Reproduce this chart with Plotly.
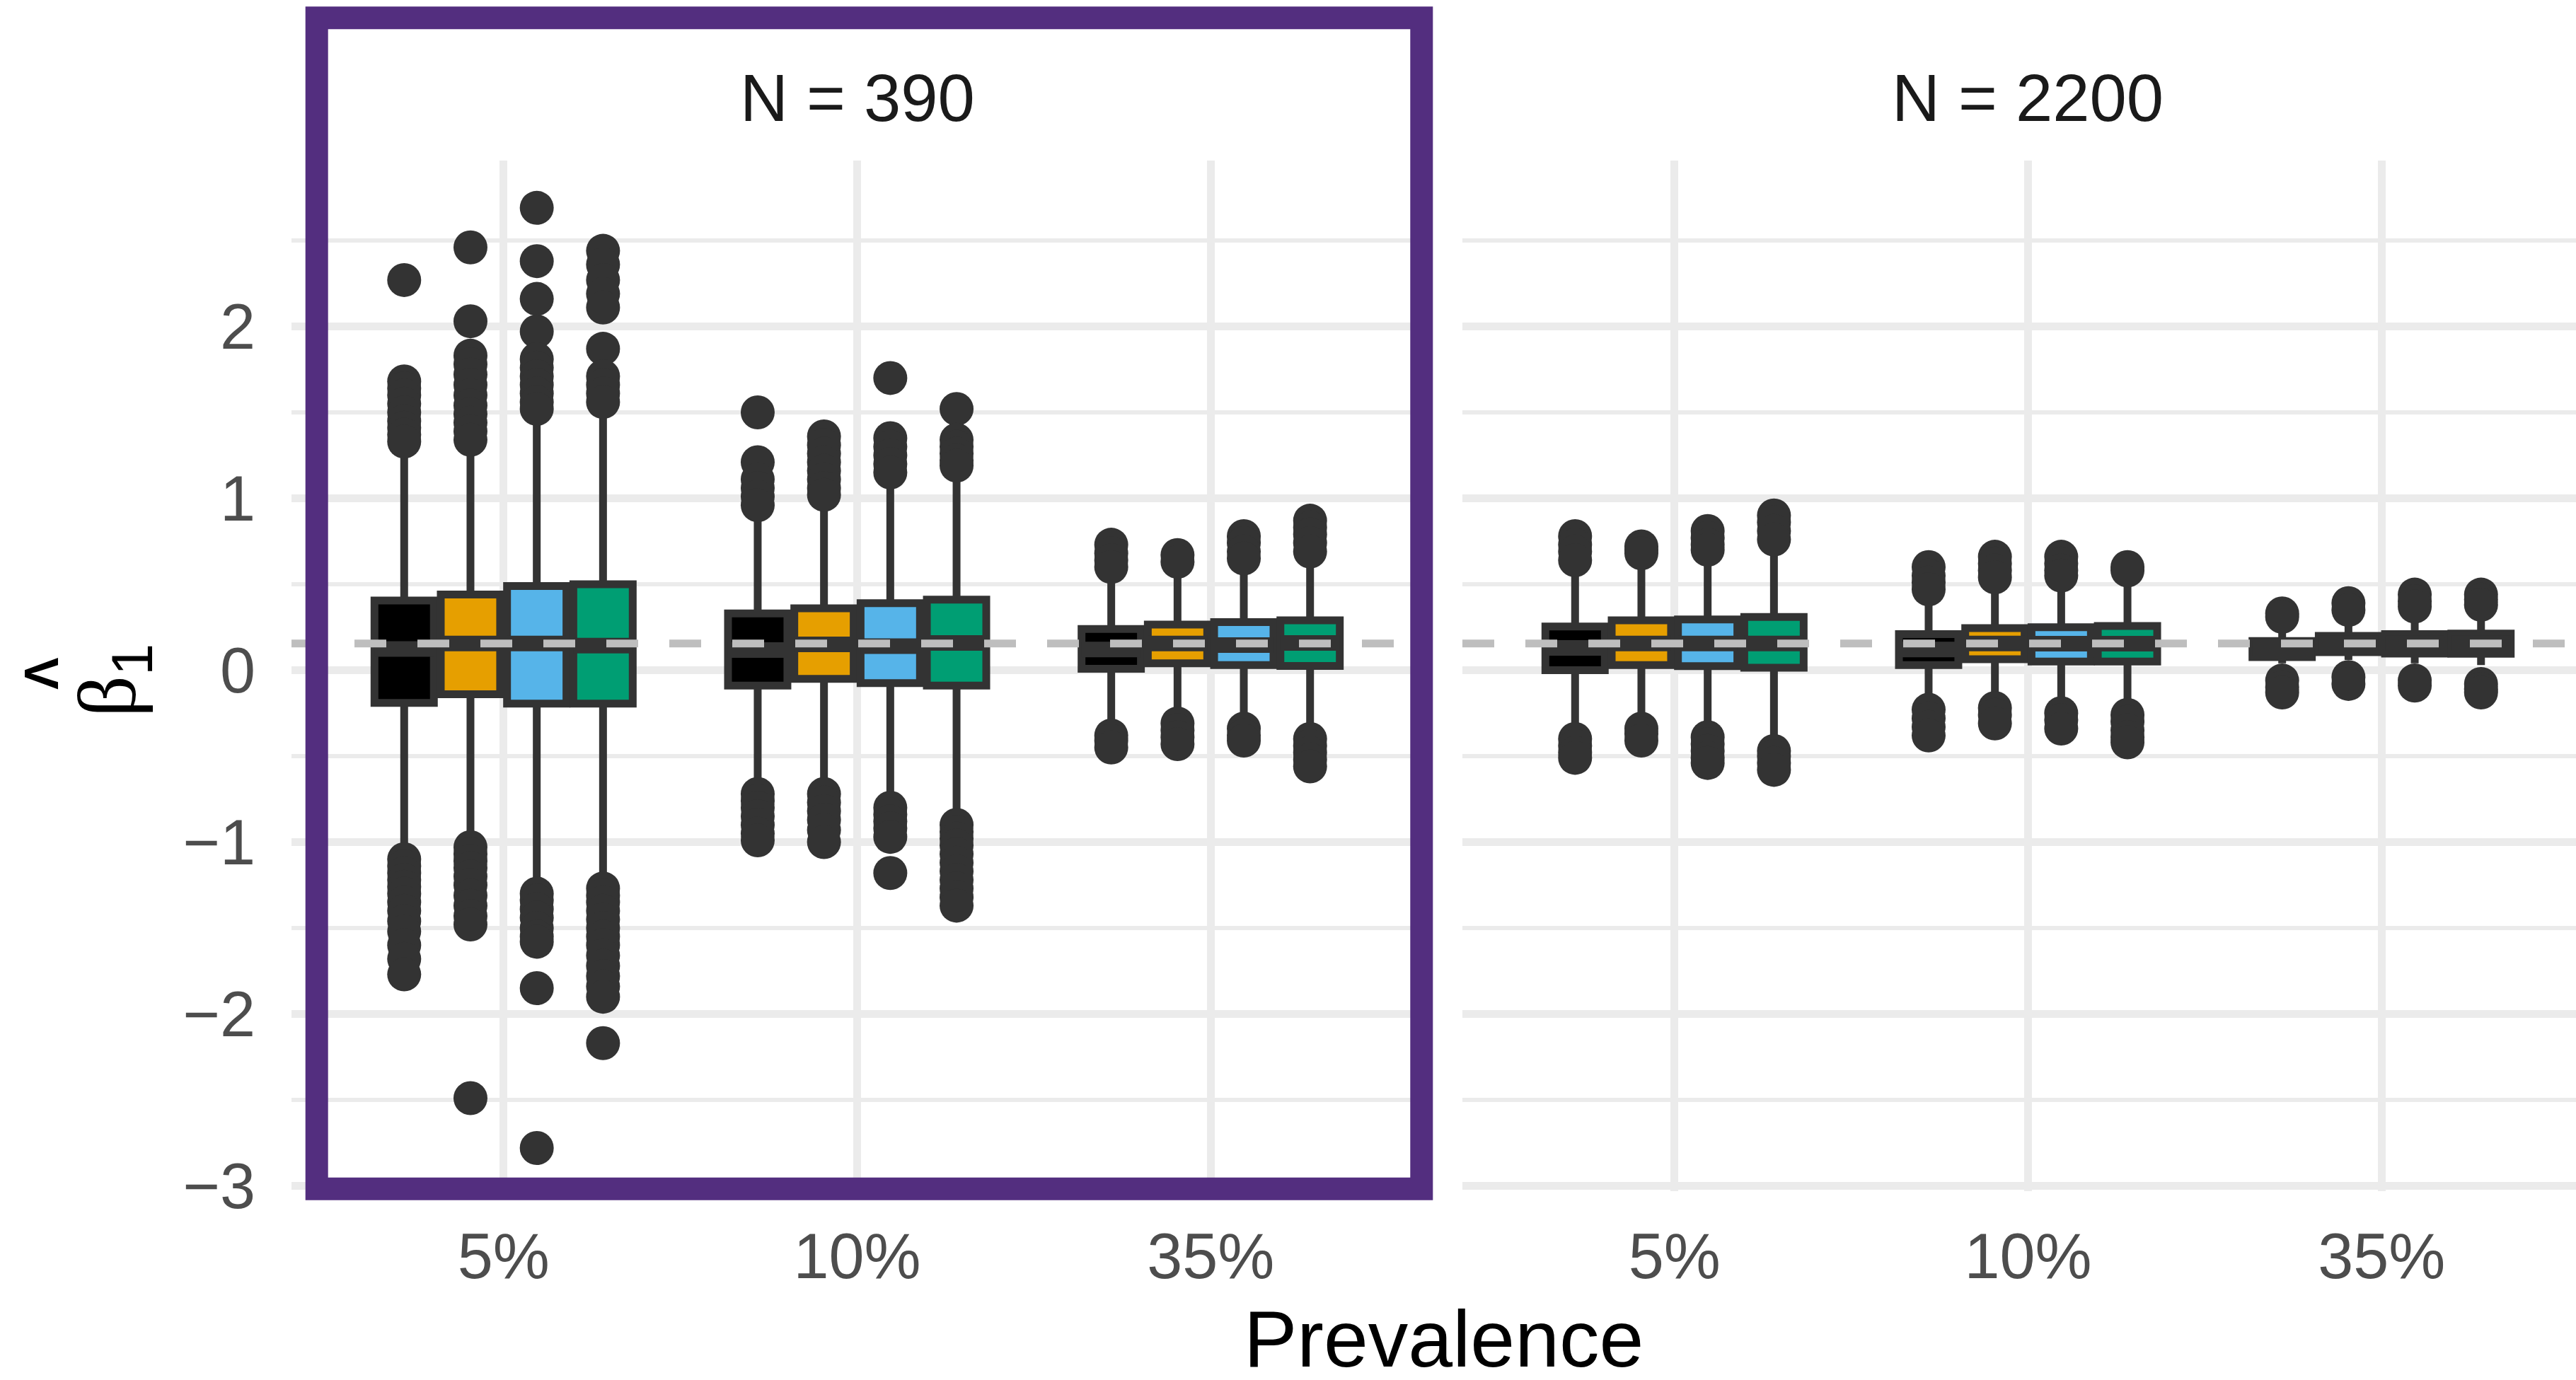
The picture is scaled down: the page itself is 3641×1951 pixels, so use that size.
import plotly.graph_objects as go

# ---------------- data ----------------
PANELS = ["N = 390", "N = 2200"]
PREVALENCE = ["5%", "10%", "35%"]
METHODS = ["Method 1", "Method 2", "Method 3", "Method 4"]
METHOD_COLORS = ["#000000", "#E69F00", "#56B4E9", "#009E73"]
TRUE_BETA = 0.155
Y_TICKS = [-3, -2, -1, 0, 1, 2]

# order within each list: 5% (m1..m4), 10% (m1..m4), 35% (m1..m4)
q1_390 = [-0.19, -0.14, -0.195, -0.195, -0.09, -0.05, -0.075, -0.09, 0.008, 0.04, 0.03, 0.025]
med_390 = [0.123, 0.155, 0.155, 0.143, 0.117, 0.15, 0.14, 0.158, 0.12, 0.155, 0.146, 0.158]
q3_390 = [0.405, 0.44, 0.49, 0.50, 0.33, 0.36, 0.39, 0.41, 0.24, 0.265, 0.28, 0.29]
lo_390 = [-1.06, -0.99, -1.26, -1.22, -0.68, -0.68, -0.76, -0.86, -0.34, -0.28, -0.30, -0.36]
hi_390 = [1.30, 1.30, 1.49, 1.53, 0.93, 0.98, 1.10, 1.15, 0.56, 0.58, 0.61, 0.65]
out_390 = [
    [2.27, 1.68, 1.64, 1.60, 1.55, 1.50, 1.45, 1.41, 1.37, 1.33,
     -1.10, -1.14, -1.18, -1.22, -1.26, -1.30, -1.35, -1.40, -1.46, -1.52, -1.60, -1.68, -1.77],
    [2.46, 2.03, 1.83, 1.78, 1.72, 1.66, 1.60, 1.54, 1.49, 1.44, 1.39, 1.34,
     -1.03, -1.07, -1.11, -1.15, -1.20, -1.25, -1.31, -1.37, -1.43, -1.48, -2.49],
    [2.69, 2.38, 2.16, 1.97, 1.81, 1.76, 1.71, 1.66, 1.61, 1.56, 1.52,
     -1.30, -1.34, -1.39, -1.44, -1.50, -1.55, -1.58, -1.85, -2.78],
    [2.44, 2.36, 2.27, 2.19, 2.11, 1.87, 1.71, 1.66, 1.61, 1.56,
     -1.27, -1.31, -1.35, -1.40, -1.45, -1.50, -1.55, -1.60, -1.66, -1.72, -1.78, -1.84, -1.90, -2.17],
    [1.50, 1.21, 1.11, 1.06, 1.01, 0.96,
     -0.72, -0.76, -0.80, -0.85, -0.90, -0.95, -0.99],
    [1.36, 1.31, 1.26, 1.21, 1.16, 1.11, 1.06, 1.02,
     -0.72, -0.77, -0.82, -0.87, -0.93, -1.00],
    [1.70, 1.35, 1.30, 1.25, 1.20, 1.15,
     -0.80, -0.84, -0.88, -0.92, -0.97, -1.18],
    [1.52, 1.34, 1.30, 1.26, 1.22, 1.19,
     -0.90, -0.94, -0.98, -1.02, -1.07, -1.12, -1.17, -1.22, -1.27, -1.32, -1.37],
    [0.73, 0.68, 0.64, 0.60, -0.38, -0.41, -0.45],
    [0.67, 0.63, -0.31, -0.35, -0.39, -0.43],
    [0.78, 0.74, 0.69, 0.65, -0.34, -0.38, -0.41],
    [0.87, 0.83, 0.79, 0.74, 0.69, -0.40, -0.44, -0.48, -0.52, -0.56],
]

q1_2200 = [0.0, 0.03, 0.024, 0.014, 0.03, 0.064, 0.05, 0.05, 0.076, 0.105, 0.097, 0.096]
med_2200 = [0.13, 0.155, 0.155, 0.155, 0.12, 0.155, 0.154, 0.154, 0.125, 0.155, 0.155, 0.155]
q3_2200 = [0.254, 0.29, 0.295, 0.31, 0.21, 0.245, 0.25, 0.257, 0.17, 0.20, 0.21, 0.213]
lo_2200 = [-0.36, -0.30, -0.35, -0.43, -0.19, -0.18, -0.21, -0.22, 0.04, 0.06, 0.04, 0.03]
hi_2200 = [0.60, 0.64, 0.66, 0.72, 0.43, 0.50, 0.51, 0.54, 0.22, 0.29, 0.31, 0.32]
out_2200 = [
    [0.78, 0.73, 0.69, 0.64, -0.40, -0.44, -0.48, -0.51],
    [0.72, 0.70, 0.68, -0.34, -0.37, -0.41],
    [0.81, 0.77, 0.73, 0.70, -0.39, -0.43, -0.47, -0.51, -0.54],
    [0.90, 0.86, 0.81, 0.76, -0.47, -0.50, -0.54, -0.58],
    [0.60, 0.55, 0.51, 0.47, -0.23, -0.28, -0.33, -0.38],
    [0.66, 0.62, 0.58, 0.54, -0.22, -0.26, -0.31],
    [0.66, 0.62, 0.58, 0.55, -0.25, -0.29, -0.34],
    [0.60, 0.58, -0.26, -0.30, -0.35, -0.39, -0.42],
    [0.33, 0.31, -0.06, -0.10, -0.13],
    [0.39, 0.35, -0.04, -0.08],
    [0.44, 0.40, 0.37, -0.06, -0.09],
    [0.44, 0.41, 0.38, -0.08, -0.11, -0.13],
]

PANEL_DATA = [
    (q1_390, med_390, q3_390, lo_390, hi_390, out_390),
    (q1_2200, med_2200, q3_2200, lo_2200, hi_2200, out_2200),
]

# ---------------- style ----------------
FONT = "Liberation Sans"
DARK = "#333333"
GRID = "#EBEBEB"
DODGE = 0.1875
BOX_W = 0.168

fig = go.Figure()

for p, (q1, med, q3, lo, hi, outs) in enumerate(PANEL_DATA):
    xa = "x" if p == 0 else "x2"
    ya = "y" if p == 0 else "y2"
    for c in range(len(PREVALENCE)):
        for m in range(len(METHODS)):
            i = c * len(METHODS) + m
            pos = (c + 1) + (m - 1.5) * DODGE
            # outliers
            fig.add_trace(go.Scatter(
                x=[pos] * len(outs[i]), y=outs[i], mode="markers",
                marker=dict(size=48, color=DARK, line=dict(width=0)),
                xaxis=xa, yaxis=ya, showlegend=False, hoverinfo="skip"))
            # box
            fig.add_trace(go.Box(
                x=[pos], q1=[q1[i]], median=[med[i]], q3=[q3[i]],
                lowerfence=[lo[i]], upperfence=[hi[i]],
                width=BOX_W, whiskerwidth=0, boxpoints=False,
                fillcolor=METHOD_COLORS[m], line=dict(color=DARK, width=11),
                name=METHODS[m], xaxis=xa, yaxis=ya, showlegend=False))
            # thick median
            fig.add_trace(go.Scatter(
                x=[pos - BOX_W / 2, pos + BOX_W / 2], y=[med[i], med[i]],
                mode="lines", line=dict(color=DARK, width=22),
                xaxis=xa, yaxis=ya, showlegend=False, hoverinfo="skip"))

L, T, B = 412, 227, 267
W, H = 3641, 1951
PW = W - L
PH = H - T - B


def px_x(v):
    return (v - L) / PW


def px_y(v):
    return (H - B - v) / PH


axis_common = dict(
    tickvals=[1, 2, 3], ticktext=PREVALENCE,
    showgrid=True, gridcolor=GRID, gridwidth=11,
    zeroline=False, showline=False, ticks="",
    tickfont=dict(family=FONT, size=90, color="#4D4D4D"),
    ticklabelstandoff=32,
)
yaxis_common = dict(
    range=[-3.031, 2.965], tickmode="array", tickvals=Y_TICKS,
    showgrid=True, gridcolor=GRID, gridwidth=11,
    minor=dict(tickvals=[-2.5, -1.5, -0.5, 0.5, 1.5, 2.5], showgrid=True,
               gridcolor=GRID, gridwidth=5.5, ticks=""),
    zeroline=False, showline=False, ticks="",
    tickfont=dict(family=FONT, size=90, color="#4D4D4D"),
)

fig.update_layout(
    width=W, height=H,
    margin=dict(l=L, r=0, t=T, b=B, pad=0),
    paper_bgcolor="white", plot_bgcolor="white",
    boxmode="overlay",
    xaxis=dict(domain=[0, px_x(2011)], range=[0.4, 3.6], anchor="y", **axis_common),
    xaxis2=dict(domain=[px_x(2067), 1], range=[0.4, 0.4 + (W - 2067) / 499.7], anchor="y2", **axis_common),
    yaxis=dict(anchor="x", ticklabelstandoff=50, **yaxis_common),
    yaxis2=dict(anchor="x2", matches="y", showticklabels=False, **yaxis_common),
)

shapes = []
for xr, yr in (("x domain", "y"), ("x2 domain", "y2")):
    shapes.append(dict(type="line", xref=xr, yref=yr, x0=0, x1=1,
                       y0=TRUE_BETA, y1=TRUE_BETA, layer="above",
                       line=dict(color="#BEBEBE", width=11, dash="45px,44px")))
shapes.append(dict(type="rect", xref="paper", yref="paper",
                   x0=px_x(447.7), x1=px_x(2009.3), y0=px_y(1680.7), y1=px_y(25.3),
                   line=dict(color="#532E7F", width=32), fillcolor="rgba(0,0,0,0)",
                   layer="above"))
fig.update_layout(shapes=shapes)

annotations = [
    dict(text=PANELS[0], x=px_x(1211.5), y=px_y(138), xref="paper", yref="paper",
         showarrow=False, xanchor="center", yanchor="middle",
         font=dict(family=FONT, size=94, color="#1A1A1A")),
    dict(text=PANELS[1], x=px_x(2866), y=px_y(138), xref="paper", yref="paper",
         showarrow=False, xanchor="center", yanchor="middle",
         font=dict(family=FONT, size=94, color="#1A1A1A")),
    dict(text="Prevalence", x=px_x(2041), y=px_y(1893), xref="paper", yref="paper",
         showarrow=False, xanchor="center", yanchor="middle",
         font=dict(family=FONT, size=113, color="#000000")),
    # the hat over beta (drawn as a wedge glyph, rotated with the title)
    dict(text="Λ", x=px_x(58), y=px_y(953), xref="paper", yref="paper",
         showarrow=False, xanchor="center", yanchor="middle", textangle=-90,
         font=dict(family=FONT, size=68, color="#000000", weight="bold")),
    dict(text="β<sub><span style='font-family:Liberation Sans'>1</span></sub>",
         x=px_x(160), y=px_y(962), xref="paper", yref="paper",
         showarrow=False, xanchor="center", yanchor="middle", textangle=-90,
         font=dict(family="Liberation Serif", size=116, color="#000000")),
]
fig.update_layout(annotations=annotations)

fig.write_html("out.html")
